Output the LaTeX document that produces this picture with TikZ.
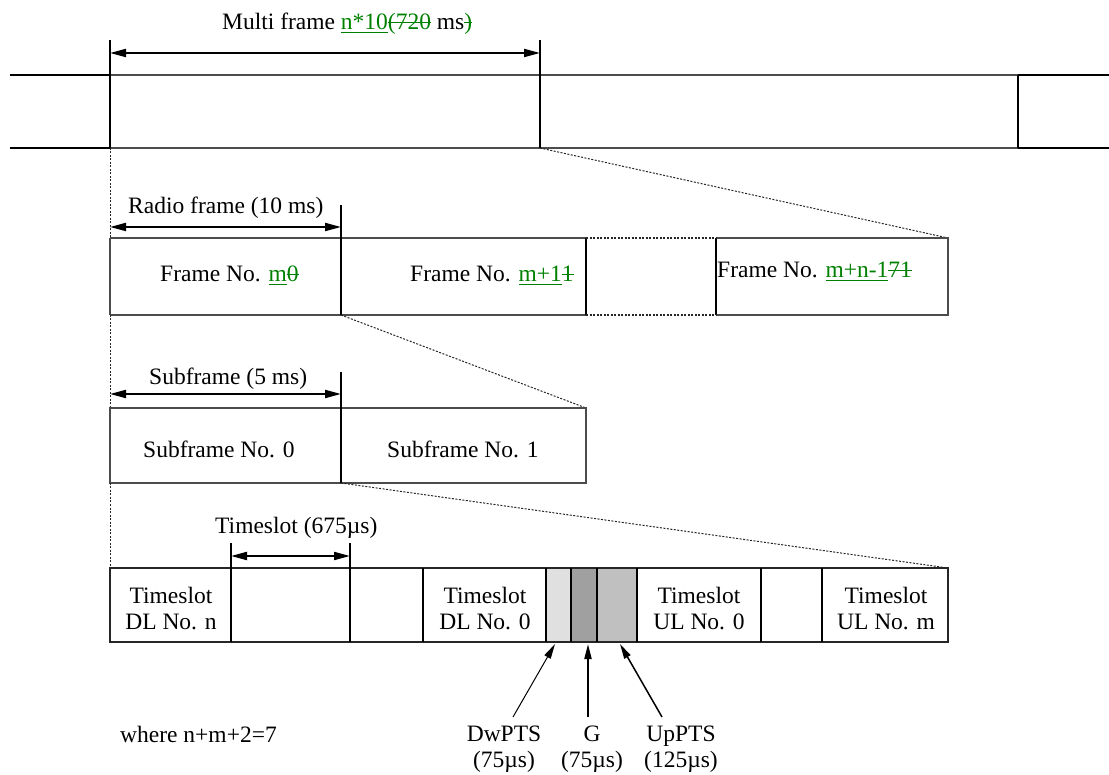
\documentclass[tikz,border=0pt]{standalone}
\usepackage{fontspec}
\setmainfont{Liberation Serif}
\usetikzlibrary{arrows.meta}
\definecolor{edit}{RGB}{0,128,0}
\definecolor{lightg}{HTML}{E0E0E0}
\definecolor{darkg}{HTML}{A0A0A0}
\definecolor{midg}{HTML}{C0C0C0}
\newcommand{\insx}[1]{\textcolor{edit}{\setbox0\hbox{#1}\rlap{\rule[-3.5pt]{\wd0}{1.3pt}}\box0}}
\newcommand{\delx}[1]{\textcolor{edit}{\setbox0\hbox{#1}\rlap{\rule[6.5pt]{\wd0}{1.3pt}}\box0}}
\begin{document}
\begin{tikzpicture}[x=1pt,y=-1pt,
  font=\fontsize{23.5}{26}\selectfont,
  lbl/.style={anchor=base west,inner sep=0pt},
  cell/.style={align=center,inner sep=0pt},
  heavy/.style={line width=2pt,black},
  outer/.style={line width=2.4pt,black},
  thinbox/.style={draw=black!70,line width=1.3pt},
  dimline/.style={line width=2pt,{Triangle[length=16pt,width=8pt]}-{Triangle[length=16pt,width=8pt]}},
  zoomline/.style={dash pattern=on 2pt off 1.5pt,line width=1pt,black!85},
  ptr/.style={-{Triangle[length=15pt,width=7pt]},black}]
\useasboundingbox (0,0) rectangle (1109,775);

% ---------- Multi frame ----------
\node[lbl] (mft) at (222,30) {Multi frame \insx{n*10}\delx{(720} ms\delx{)}};
\draw[outer] (10,75) -- (110,75);
\draw[outer] (10,148) -- (110,148);
\draw[outer] (1018,75) -- (1109,75);
\draw[outer] (1018,148) -- (1109,148);
\draw[thinbox] (110,75) -- (1018,75);
\draw[thinbox] (110,148) -- (1018,148);
\draw[heavy] (110,40) -- (110,148);
\draw[heavy] (540,40) -- (540,148);
\draw[line width=1.6pt] (1018,75) -- (1018,148);
\coordinate (mfl) at (110,53);
\coordinate (mfr) at (540,53);
\draw[dimline] (mfl) -- (mfr);

% zoom connectors
\coordinate (a1) at (110,148); \coordinate (a2) at (110,238);
\coordinate (b1) at (540,148); \coordinate (b2) at (948,238);
\draw[zoomline] (a1) -- (a2);
\draw[zoomline] (b1) -- (b2);

% ---------- Radio frames ----------
\node[lbl] (rft) at (128,214) {Radio frame (10 ms)};
\draw[thinbox] (110,238) -- (586,238);
\draw[thinbox] (110,315) -- (586,315);
\draw[thinbox] (716,238) -- (948,238) -- (948,315) -- (716,315);
\draw[thinbox] (110,238) -- (110,315);
\draw[line width=1.2pt] (586,238) -- (586,315);
\draw[line width=1.2pt] (716,238) -- (716,315);
\draw[zoomline,line width=1.3pt] (586,238) -- (716,238);
\draw[zoomline,line width=1.3pt] (586,315) -- (716,315);
\draw[heavy] (341,205) -- (341,315);
\coordinate (rfl) at (110,227);
\coordinate (rfr) at (341,227);
\draw[dimline] (rfl) -- (rfr);
\node[lbl] (f0) at (160,282) {Frame No. \insx{m}\delx{0}};
\node[lbl] (f1) at (410,282) {Frame No. \insx{m+1}\delx{1}};
\node[lbl] (fn) at (717,278) {Frame No. \insx{m+n-1}\delx{71}};

\coordinate (c1) at (110,315); \coordinate (c2) at (110,408);
\coordinate (d1) at (341,315); \coordinate (d2) at (586,408);
\draw[zoomline] (c1) -- (c2);
\draw[zoomline] (d1) -- (d2);

% ---------- Subframes ----------
\node[lbl] (sft) at (149,385) {Subframe (5 ms)};
\draw[thinbox] (110,408) rectangle (586,483);
\draw[heavy] (341,372) -- (341,483);
\coordinate (sfl) at (110,394);
\coordinate (sfr) at (341,394);
\draw[dimline] (sfl) -- (sfr);
\node[lbl] (s0) at (143,458) {Subframe No. 0};
\node[lbl] (s1) at (387,457) {Subframe No. 1};

\coordinate (e1) at (110,483); \coordinate (e2) at (110,568);
\coordinate (g1) at (341,483); \coordinate (g2) at (948,568);
\draw[zoomline] (e1) -- (e2);
\draw[zoomline] (g1) -- (g2);

% ---------- Timeslots ----------
\fill[lightg] (546,568) rectangle (571,642);
\fill[darkg] (571,568) rectangle (597,642);
\fill[midg] (597,568) rectangle (637,642);
\draw[line width=1.5pt,black!85] (110,568) rectangle (948,642);
\draw[heavy] (231,543) -- (231,642);
\draw[line width=1.2pt] (350,543) -- (350,642);
\draw[heavy] (423,568) -- (423,642);
\draw[line width=1.3pt] (546,568) -- (546,642);
\draw[line width=1.3pt] (571,568) -- (571,642);
\draw[line width=1.3pt] (597,568) -- (597,642);
\draw[line width=1.3pt] (637,568) -- (637,642);
\draw[heavy] (761,568) -- (761,642);
\draw[heavy] (822,568) -- (822,642);
\node[lbl] (tst) at (215,533) {Timeslot (675µs)};
\coordinate (tsl) at (231,556);
\coordinate (tsr) at (350,556);
\draw[dimline] (tsl) -- (tsr);
\node[cell] (t1) at (171,609) {Timeslot\\DL No. n};
\node[cell] (t2) at (485,609) {Timeslot\\DL No. 0};
\node[cell] (t3) at (699,609) {Timeslot\\UL No. 0};
\node[cell] (t4) at (886,609) {Timeslot\\UL No. m};

% ---------- special slots ----------
\node[cell] (dw) at (504,749) {DwPTS\\(75µs)};
\node[cell] (gp) at (592,749) {G\\(75µs)};
\node[cell] (up) at (681,749) {UpPTS\\(125µs)};
\coordinate (dwt) at (513,717); \coordinate (dwh) at (555,644);
\coordinate (gpt) at (588,717); \coordinate (gph) at (588,644);
\coordinate (upt) at (662,717); \coordinate (uph) at (620,644);
\draw[ptr,line width=1pt] (dwt) -- (dwh);
\draw[ptr,line width=2pt] (gpt) -- (gph);
\draw[ptr,line width=1.5pt] (upt) -- (uph);

\node[lbl] (wh) at (120,742) {where n+m+2=7};
\end{tikzpicture}
\end{document}
